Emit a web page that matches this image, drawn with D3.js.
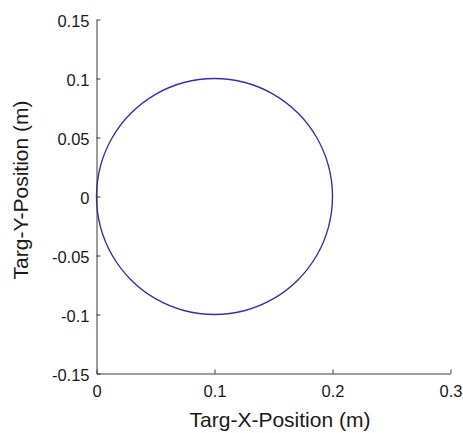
<!DOCTYPE html>
<html><head><meta charset="utf-8">
<script src="https://cdn.jsdelivr.net/npm/d3@7"></script>
<style>body{margin:0;background:#fff;}svg{display:block;}</style>
</head><body>
<svg id="c" width="463" height="433"></svg>
<script>
const xTicks = [0, 0.1, 0.2, 0.3];
const yTicks = [-0.15, -0.1, -0.05, 0, 0.05, 0.1, 0.15];
const xLabel = "Targ-X-Position (m)";
const yLabel = "Targ-Y-Position (m)";
// Trajectory points (every 15 degrees around the loop)
const targX = [0.2, 0.1966, 0.1866, 0.1707, 0.15, 0.1259, 0.1, 0.0741, 0.05, 0.0293, 0.0134, 0.0034, 0,
  0.0034, 0.0134, 0.0293, 0.05, 0.0741, 0.1, 0.1259, 0.15, 0.1707, 0.1866, 0.1966];
const targY = [0, 0.0259, 0.05, 0.0707, 0.0866, 0.0966, 0.1, 0.0966, 0.0866, 0.0707, 0.05, 0.0259, 0,
  -0.0259, -0.05, -0.0707, -0.0866, -0.0966, -0.1, -0.0966, -0.0866, -0.0707, -0.05, -0.0259];

const svg = d3.select("#c");
const L = 96.5, R = 450.5, T = 19.5, B = 373.5;
const x = d3.scaleLinear().domain([0, 0.3]).range([L, R]);
const y = d3.scaleLinear().domain([-0.15, 0.15]).range([B, T]);
const font = "Helvetica, 'Liberation Sans', Arial, sans-serif";
const fmt = d => String(d);

const pts = targX.map((v, i) => [v, targY[i]]);
svg.append("path")
  .attr("d", d3.line().x(d => x(d[0])).y(d => y(d[1])).curve(d3.curveCardinalClosed.tension(0))(pts))
  .attr("fill", "none").attr("stroke", "#3a2eab").attr("stroke-width", 1.4);

const gx = svg.append("g").attr("transform", `translate(0,${B})`)
  .call(d3.axisBottom(x).tickValues(xTicks).tickFormat(fmt).tickSizeInner(-4).tickSizeOuter(0).tickPadding(8));
const gy = svg.append("g").attr("transform", `translate(${L},0)`)
  .call(d3.axisLeft(y).tickValues(yTicks).tickFormat(fmt).tickSizeInner(-4).tickSizeOuter(0).tickPadding(7));
[gx, gy].forEach(g => {
  g.select(".domain").attr("stroke", "#3a3a3a").attr("stroke-width", 1);
  g.selectAll(".tick line").attr("stroke", "#3a3a3a");
  g.selectAll("text").attr("font-family", font).attr("font-size", 16.5).attr("fill", "#1a1a1a");
});
gx.selectAll("text").attr("y", 23.5).attr("dy", null);
gy.selectAll("text").attr("dy", "0.45em");

svg.append("text").attr("x", 280).attr("y", 427).attr("text-anchor", "middle")
  .attr("font-family", font).attr("font-size", 21).attr("fill", "#1a1a1a").text(xLabel);
svg.append("text").attr("transform", `translate(28,190) rotate(-90)`).attr("text-anchor", "middle")
  .attr("font-family", font).attr("font-size", 21).attr("fill", "#1a1a1a").text(yLabel);
</script>
</body></html>
